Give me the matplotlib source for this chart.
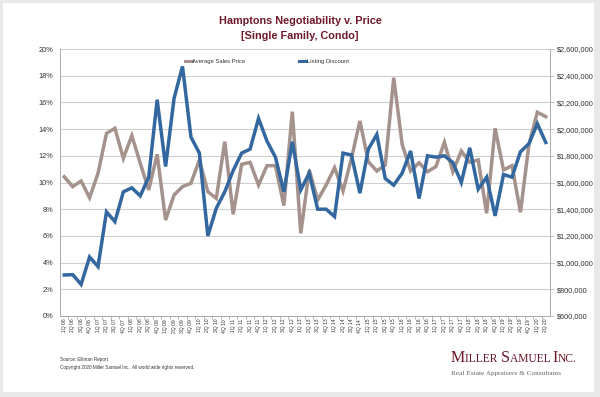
import matplotlib
matplotlib.use("Agg")
import matplotlib.pyplot as plt
from matplotlib.patches import Rectangle
from matplotlib.ticker import FuncFormatter
from matplotlib.lines import Line2D

# ---- data ----
years = list(range(6, 21))
quarters = [f"{q}Q {y:02d}" for y in years for q in (1, 2, 3, 4)][:58]

listing_discount = [3.07, 3.1, 2.37, 4.42, 3.7, 7.8, 7.07, 9.3, 9.6, 9.0,
                    10.4, 16.2, 11.2, 16.3, 18.7, 13.4, 12.2, 6.0, 8.07, 9.3,
                    10.9, 12.2, 12.5, 14.8, 13.1, 11.9, 9.3, 13.05, 9.45, 10.7,
                    8.0, 8.0, 7.45, 12.2, 12.06, 9.2, 12.5, 13.6, 10.3, 9.8,
                    10.7, 12.36, 8.8, 12.0, 11.9, 12.0, 11.5, 10.0, 12.6, 9.5,
                    10.4, 7.5, 10.6, 10.4, 12.3, 12.9, 14.4, 13.0]

avg_price = [1643000, 1569000, 1611000, 1486000, 1669000, 1968000, 2006000, 1781000, 1951000, 1744000,
             1544000, 1811000, 1319000, 1506000, 1569000, 1594000, 1769000, 1531000, 1481000, 1906000,
             1362000, 1736000, 1751000, 1581000, 1726000, 1726000, 1427000, 2131000, 1219000, 1694000,
             1469000, 1581000, 1711000, 1536000, 1781000, 2061000, 1756000, 1686000, 1731000, 2385000,
             1886000, 1686000, 1748000, 1681000, 1719000, 1901000, 1681000, 1836000, 1751000, 1769000,
             1369000, 2006000, 1694000, 1726000, 1377000, 1881000, 2126000, 2093000]

title_lines = ["Hamptons Negotiability v. Price", "[Single Family, Condo]"]
series_names = ["Average Sales Price", "Listing Discount"]

# ---- styles ----
C_PRICE = "#a5928c"
C_DISC = "#33679f"
C_TITLE = "#6e1a2c"
C_GRID = "#cfcfcf"
C_TXT = "#333333"

plt.rcParams["font.family"] = ["Liberation Sans", "DejaVu Sans"]
fig = plt.figure(figsize=(6.0, 3.97), dpi=100)
fig.patch.set_facecolor("#e9e9e9")
fig.patches.append(Rectangle((3/600, 5/397), 591/600, 389/397, transform=fig.transFigure,
                             facecolor="white", edgecolor="none", zorder=-10))

ax = fig.add_axes([60/600, 81/397, 490/600, 267/397])
ax.set_facecolor("white")
ax2 = ax.twinx()

x = list(range(len(quarters)))
ax2.plot(x, avg_price, color=C_PRICE, lw=2.5, solid_joinstyle="miter", zorder=3)
ax.plot(x, listing_discount, color=C_DISC, lw=2.5, solid_joinstyle="miter", zorder=4)
ax.set_zorder(ax2.get_zorder() + 1)
ax.patch.set_visible(False)

ax.set_xlim(-0.5, len(quarters) - 0.5)
ax.set_ylim(0, 20)
ax.set_yticks(range(0, 21, 2))
ax.yaxis.set_major_formatter(FuncFormatter(lambda v, p: f"{v:.0f}%"))
ax2.set_ylim(600000, 2600000)
ax2.set_yticks(range(600000, 2600001, 200000))
ax2.yaxis.set_major_formatter(FuncFormatter(lambda v, p: f"${v:,.0f}"))

ax2.grid(axis="y", color=C_GRID, lw=0.8)
ax2.set_axisbelow(True)

ax.set_xticks(x)
ax.set_xticklabels(quarters, rotation=90, fontsize=3.6, color=C_TXT)
ax.set_xticks([i + 0.5 for i in x[:-1]], minor=True)
ax.tick_params(axis="x", which="major", length=0, pad=2)
ax.tick_params(axis="x", which="minor", length=2, color="#999999", width=0.5)
ax.tick_params(axis="y", length=0, labelsize=5.3, labelcolor=C_TXT, pad=5)
ax2.tick_params(axis="y", length=3, labelsize=5.3, labelcolor=C_TXT, pad=2, color="#aaaaaa", width=0.5)

for a in (ax, ax2):
    a.spines["top"].set_visible(False)
    for s in ("left", "right", "bottom"):
        a.spines[s].set_color("#aaaaaa")
        a.spines[s].set_linewidth(0.6)

# legend
handles = [Line2D([], [], color=C_PRICE, lw=2.2), Line2D([], [], color=C_DISC, lw=2.2)]
leg = ax.legend(handles, series_names, loc="upper left", bbox_to_anchor=(0.25, 0.97), ncol=2,
                frameon=False, fontsize=4.2, handlelength=1.2, handletextpad=0.1,
                columnspacing=9.2, borderaxespad=0)
for t in leg.get_texts():
    t.set_color(C_TXT)

# title
fig.text(0.5, 1 - 21/397, title_lines[0], ha="center", va="center", fontsize=7.8,
         fontweight="bold", color=C_TITLE)
fig.text(0.5, 1 - 36/397, title_lines[1], ha="center", va="center", fontsize=7.8,
         fontweight="bold", color=C_TITLE)

# footer
fig.text(60/600, 1 - 359/397, "Source: Elliman Report", fontsize=3.3, color=C_TXT, va="center")
fig.text(60/600, 1 - 368/397, "Copyright 2020 Miller Samuel Inc.  All world wide rights reserved.",
         fontsize=3.3, color=C_TXT, va="center")

# logo in small caps
fig.canvas.draw()
renderer = fig.canvas.get_renderer()
pieces = [("M", 11.5), ("ILLER ", 8.3), ("S", 11.5), ("AMUEL ", 8.3), ("I", 11.5), ("NC.", 8.3)]
xpos = 451
ybase = 1 - 362/397
for txt, sz in pieces:
    t = fig.text(xpos/600, ybase, txt, fontsize=sz, color="#6b1528", family="Liberation Serif",
                 va="baseline", ha="left")
    bb = t.get_window_extent(renderer)
    xpos += bb.width
fig.text(451/600, 1 - 373/397, "Real Estate Appraisers & Consultants", fontsize=5.2,
         color="#666666", family="Liberation Serif", va="center", ha="left")

fig.savefig("out.png", dpi=100, facecolor=fig.get_facecolor())
